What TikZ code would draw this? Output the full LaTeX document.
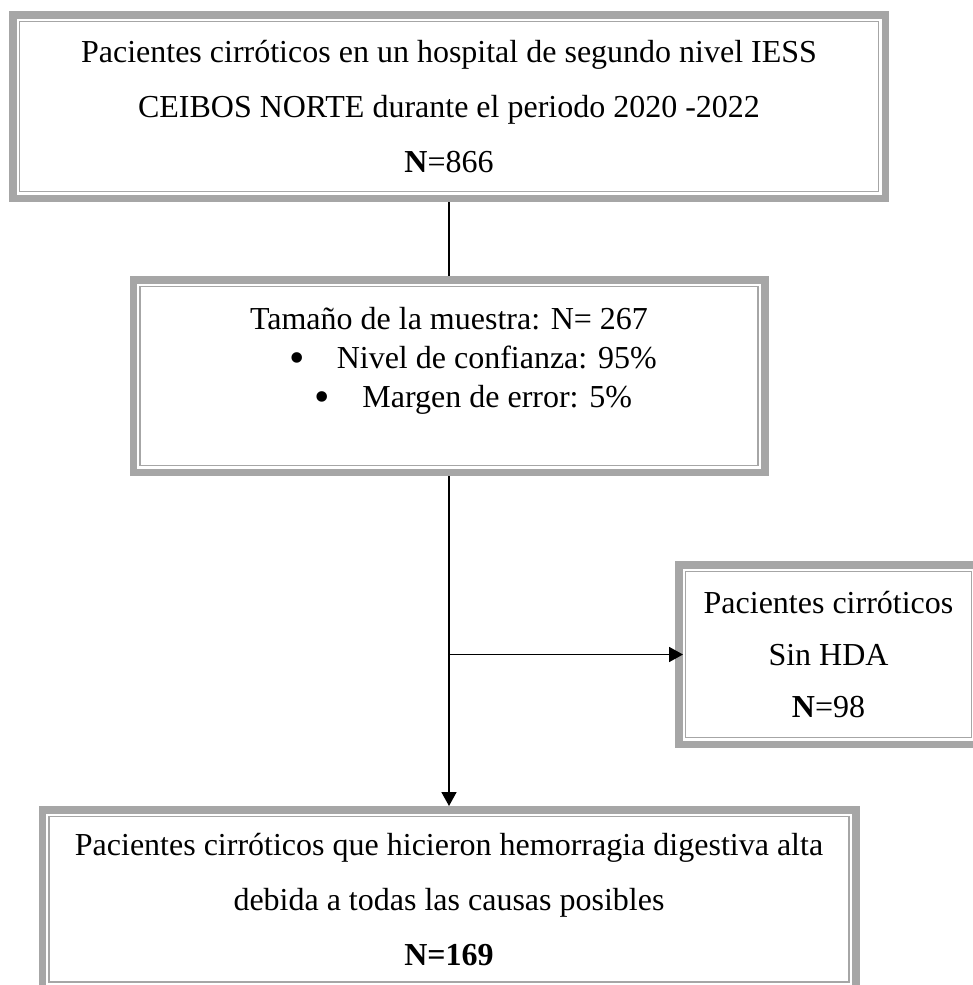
\documentclass[tikz,border=0pt]{standalone}
\usepackage{fontspec}
\setmainfont{Liberation Serif}
\usepackage{tikz}
\usetikzlibrary{arrows.meta}
\definecolor{boxgray}{RGB}{166,166,166}
\newcommand{\listdot}{{\fontsize{44}{39}\selectfont\raisebox{-4pt}{\textbullet}}}

\begin{document}
\begin{tikzpicture}[x=1pt, y=-1pt,
    box/.style={draw=boxgray, line width=1.8pt, outer sep=10.5pt, align=center,
      font=\fontsize{32}{55}\selectfont},
    band/.style={draw=boxgray, line width=7.5pt},
    link/.style={line width=1.7pt},
    arr/.style={link, -{Triangle[length=14pt,width=15pt]}}]
    \useasboundingbox (0,0) rectangle (973,985);

    % Boxes
    \node[box, minimum width=859pt, minimum height=170pt] (population) at (449,106.5)
        {Pacientes cirróticos en un hospital de segundo nivel IESS\\
         CEIBOS NORTE durante el periodo 2020 -2022\\
         \textbf{N}=866};
    \node[box, minimum width=618pt, minimum height=179pt,
          font=\fontsize{32}{39}\selectfont] (sample) at (449,376)
        {Tamaño de la muestra: N= 267\\
         \hspace*{48pt}\listdot\hspace{32pt}Nivel de confianza: 95\%\\
         \hspace*{48pt}\listdot\hspace{33pt}Margen de error: 5\%\rule[-38pt]{0pt}{38pt}};
    \node[box, minimum width=286pt, minimum height=166pt,
          font=\fontsize{32}{52}\selectfont] (excluded) at (828.5,654.5)
        {Pacientes cirróticos\\
         Sin HDA\\
         \textbf{N}=98};
    \node[box, minimum width=800pt, minimum height=165.5pt] (final) at (449,899.25)
        {Pacientes cirróticos que hicieron hemorragia digestiva alta\\
         debida a todas las causas posibles\\
         \textbf{N=169}};

    % Outer frames
    \foreach \b in {population,sample,excluded,final}
        \draw[band] ([shift={(3.75pt,3.75pt)}]\b.south west) rectangle ([shift={(-3.75pt,-3.75pt)}]\b.north east);

    % Lines
    \draw[link] (population) -- (sample);
    \draw[arr] (sample) -- (final);
    \coordinate (split) at (sample.south |- excluded.west);
    \draw[arr, shorten >=-8pt] (split) -- (excluded.west);
\end{tikzpicture}
\end{document}
